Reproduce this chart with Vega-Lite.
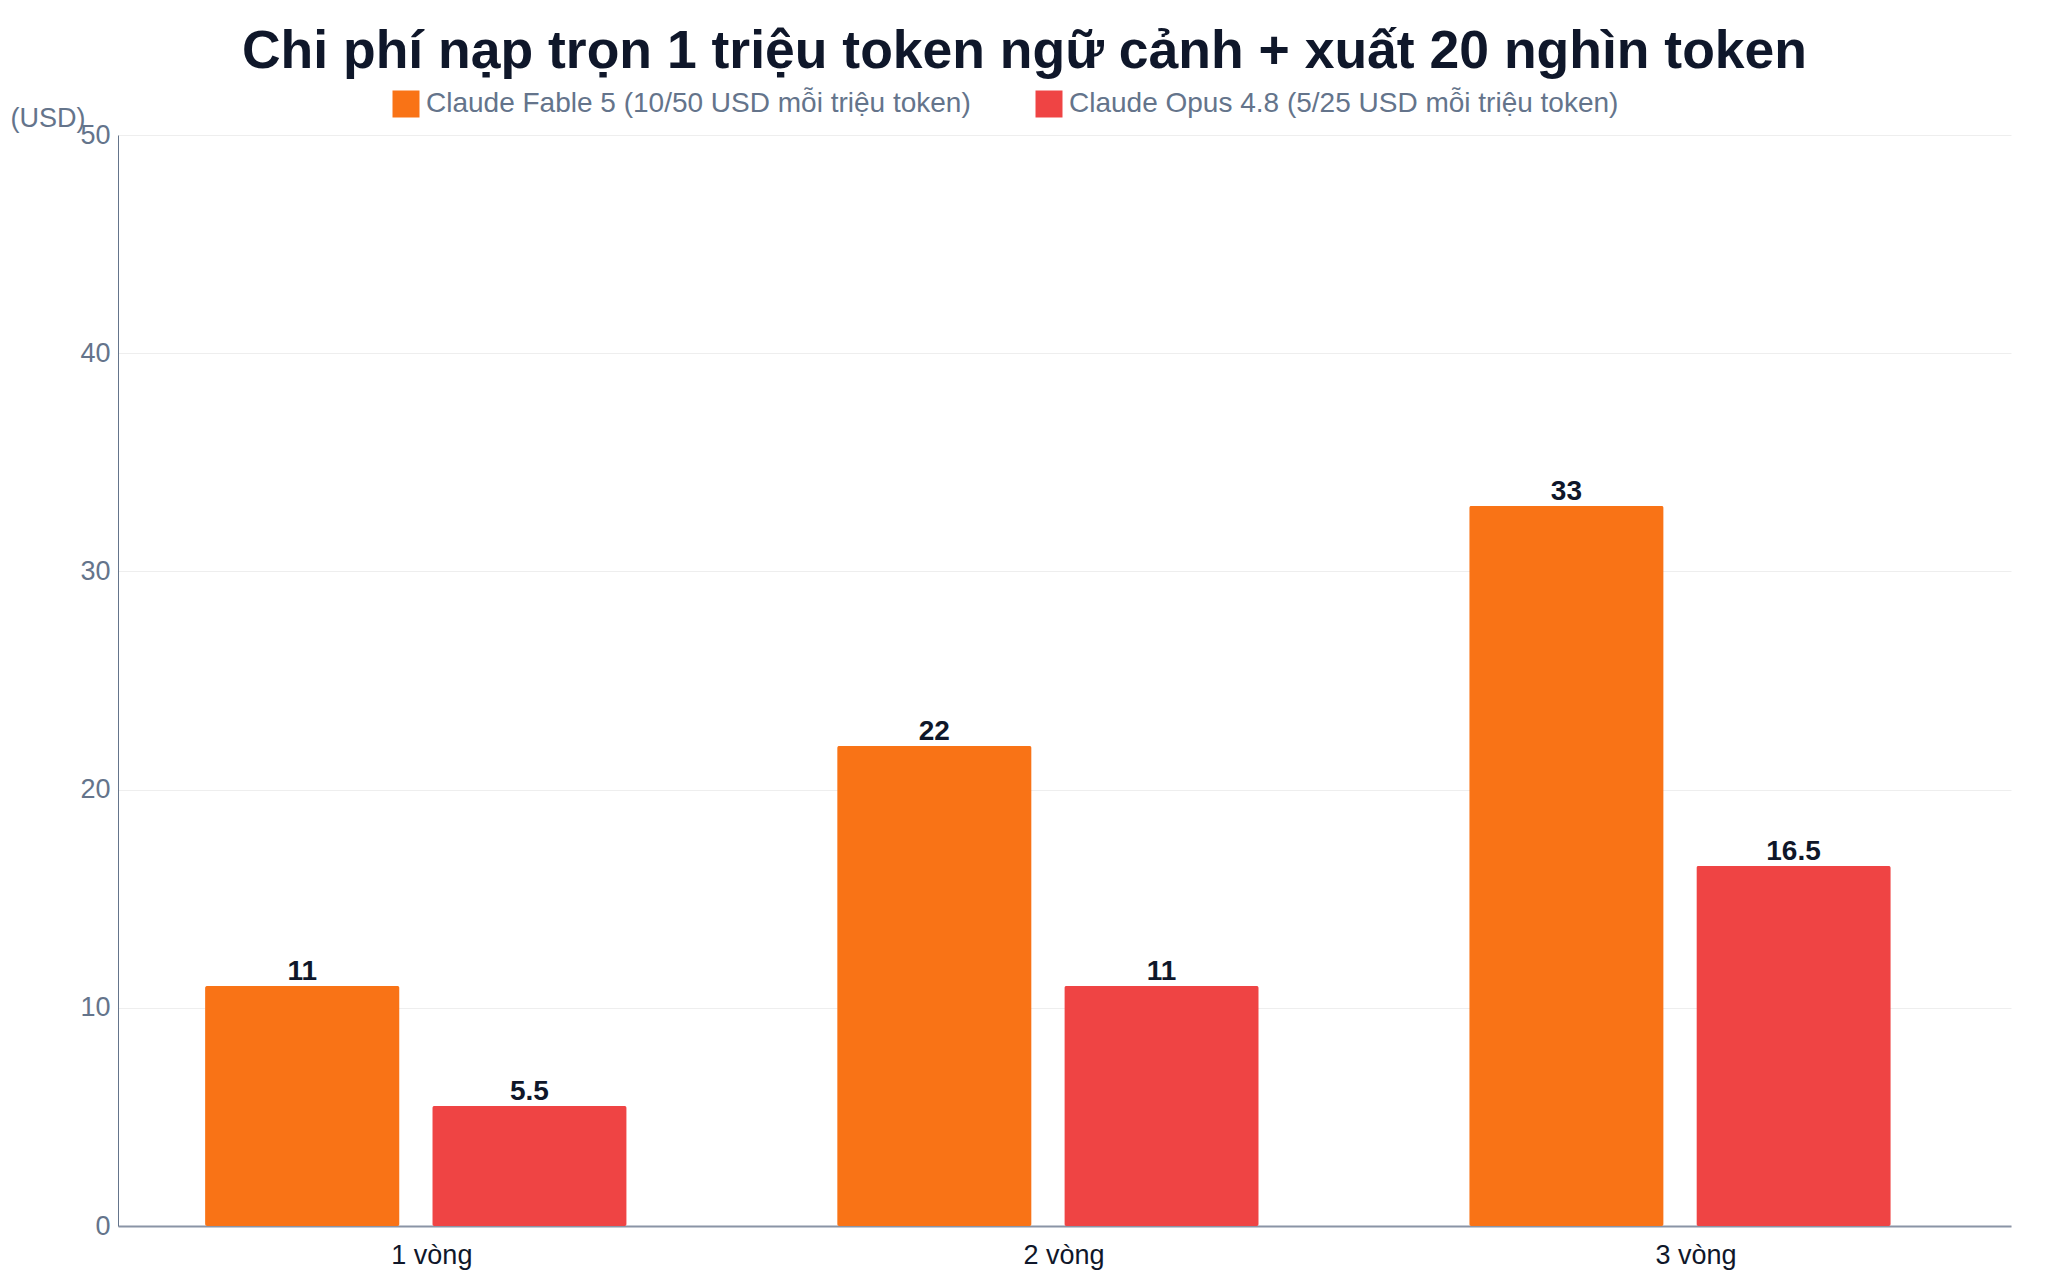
{
  "$schema": "https://vega.github.io/schema/vega-lite/v6.json",
  "width": 1893,
  "height": 1091,
  "autosize": {"type": "none"},
  "padding": {"left": 118, "top": 135, "right": 37, "bottom": 54},
  "background": "white",
  "config": {
    "font": "Liberation Sans",
    "view": {"stroke": null}
  },
  "title": {
    "text": "Chi phí nạp trọn 1 triệu token ngữ cảnh + xuất 20 nghìn token",
    "fontSize": 53.5,
    "fontWeight": "bold",
    "color": "#0f172a",
    "anchor": "middle",
    "dx": -40,
    "offset": 11
  },
  "data": {
    "values": [
      {"round": "1 vòng", "model": "Claude Fable 5 (10/50 USD mỗi triệu token)", "value": 11},
      {"round": "1 vòng", "model": "Claude Opus 4.8 (5/25 USD mỗi triệu token)", "value": 5.5},
      {"round": "2 vòng", "model": "Claude Fable 5 (10/50 USD mỗi triệu token)", "value": 22},
      {"round": "2 vòng", "model": "Claude Opus 4.8 (5/25 USD mỗi triệu token)", "value": 11},
      {"round": "3 vòng", "model": "Claude Fable 5 (10/50 USD mỗi triệu token)", "value": 33},
      {"round": "3 vòng", "model": "Claude Opus 4.8 (5/25 USD mỗi triệu token)", "value": 16.5}
    ]
  },
  "encoding": {
    "x": {
      "field": "round",
      "type": "nominal",
      "sort": ["1 vòng", "2 vòng", "3 vòng"],
      "scale": {"paddingInner": 0.333, "paddingOuter": 0.164, "align": 0.42},
      "axis": {
        "title": null,
        "labelAngle": 0,
        "labelFontSize": 27,
        "labelColor": "#0f172a",
        "labelPadding": 16,
        "labelOffset": 16,
        "ticks": false,
        "grid": false,
        "domainColor": "#8a94a6",
        "domainWidth": 2
      }
    },
    "xOffset": {
      "field": "model",
      "type": "nominal",
      "scale": {"paddingInner": 0.144}
    },
    "y": {
      "field": "value",
      "type": "quantitative",
      "scale": {"domain": [0, 50]},
      "axis": {
        "title": "(USD)",
        "titleAngle": 0,
        "titleAlign": "left",
        "titleBaseline": "middle",
        "titleX": -108,
        "titleY": -17,
        "titleFontSize": 27,
        "titleFontWeight": "normal",
        "titleColor": "#64748b",
        "values": [0, 10, 20, 30, 40, 50],
        "labelFontSize": 27,
        "labelColor": "#64748b",
        "labelPadding": 8,
        "ticks": false,
        "gridColor": "#eeeeee",
        "domainColor": "#64748b"
      }
    }
  },
  "layer": [
    {
      "mark": {"type": "bar", "cornerRadius": 2},
      "encoding": {
        "color": {
          "field": "model",
          "type": "nominal",
          "scale": {"range": ["#f97316", "#ef4444"]},
          "legend": {
            "title": null,
            "orient": "none",
            "direction": "horizontal",
            "legendX": 274,
            "legendY": -45,
            "symbolType": "square",
            "symbolSize": 729,
            "symbolStrokeWidth": 0,
            "labelFontSize": 28,
            "labelLimit": 0,
            "labelColor": "#64748b",
            "labelOffset": 6,
            "columnPadding": 64
          }
        }
      }
    },
    {
      "mark": {"type": "text", "baseline": "bottom", "dy": 0, "fontSize": 28, "fontWeight": "bold", "color": "#0f172a"},
      "encoding": {
        "text": {"field": "value", "type": "quantitative"}
      }
    }
  ]
}
